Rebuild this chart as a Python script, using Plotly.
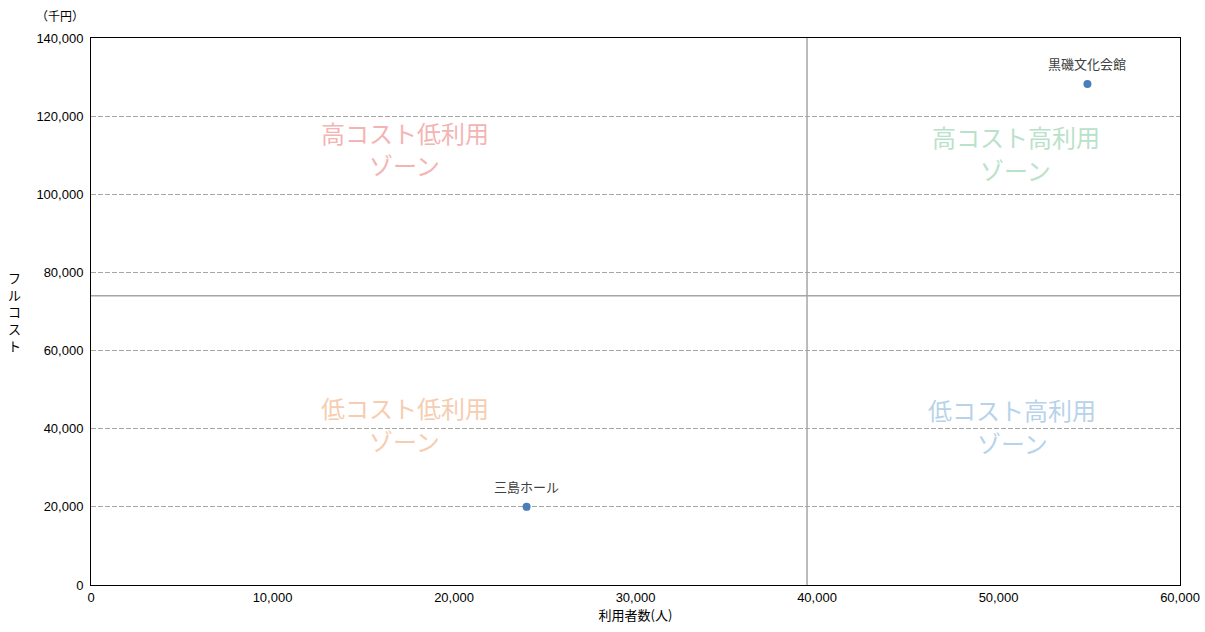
import plotly.graph_objects as go

# Facilities: annual users vs. full cost (thousand yen)
facilities = ["黒磯文化会館", "三島ホール"]
users = [54900, 24000]
full_cost = [128200, 20000]

# Quadrant dividers
user_divider = 39450
cost_divider = 74000

x_range = [0, 60000]
y_range = [0, 140000]
y_ticks = [0, 20000, 40000, 60000, 80000, 100000, 120000, 140000]
x_ticks = [0, 10000, 20000, 30000, 40000, 50000, 60000]

# Zone captions (two lines each), positions in plot-area fractions
zone_titles = ["高コスト低利用", "高コスト高利用", "低コスト低利用", "低コスト高利用"]
zone_suffix = "ゾーン"
zone_x = [0.288, 0.849, 0.288, 0.846]
zone_y_top = [0.828, 0.820, 0.324, 0.320]
zone_y_bottom = [0.768, 0.759, 0.265, 0.260]
zone_colors = ["#F4B4B4", "#B9E2CA", "#F6CDB0", "#B7D3EA"]

FONT = "Noto Sans CJK JP, sans-serif"
NUM_FONT = "Liberation Sans, Arial, sans-serif"
fig = go.Figure()

# Divider lines
fig.add_trace(go.Scatter(x=[user_divider, user_divider], y=y_range, mode="lines",
                         line=dict(color="#A6A6A6", width=1.5), hoverinfo="skip",
                         showlegend=False))
fig.add_trace(go.Scatter(x=x_range, y=[cost_divider, cost_divider], mode="lines",
                         line=dict(color="#A6A6A6", width=1.5), hoverinfo="skip",
                         showlegend=False))

# Facility points
fig.add_trace(go.Scatter(x=users, y=full_cost, mode="markers",
                         marker=dict(color="#4A7EBB", size=8), showlegend=False))
for name, ux, cy in zip(facilities, users, full_cost):
    fig.add_annotation(text=name, x=ux, y=cy, showarrow=False, yanchor="bottom",
                       yshift=9, font=dict(family=FONT, size=13, color="#404040"))

for title, zx, yt, yb, zc in zip(zone_titles, zone_x, zone_y_top, zone_y_bottom,
                                 zone_colors):
    for text, zy in ((title, yt), (zone_suffix, yb)):
        fig.add_annotation(text=text, x=zx, y=zy, xref="paper", yref="paper",
                           xanchor="center", yanchor="middle", showarrow=False,
                           font=dict(family=FONT, size=24, color=zc))

# Unit label and vertical y-axis title
fig.add_annotation(text="（千円）", x=-0.0285, y=1.042, xref="paper", yref="paper",
                   xanchor="center", yanchor="middle", showarrow=False,
                   font=dict(family=FONT, size=12, color="#000"))
fig.add_annotation(text="フ<br>ル<br>コ<br>ス<br>ト", x=-0.0705, y=0.5, xref="paper",
                   yref="paper", xanchor="center", yanchor="middle", showarrow=False,
                   font=dict(family=FONT, size=13, color="#000"))

fig.update_xaxes(range=x_range, tickvals=x_ticks, tickformat=",d", showgrid=False,
                 zeroline=False, showline=True, linecolor="#000", linewidth=1,
                 mirror=True, ticks="", automargin=False,
                 tickfont=dict(family=NUM_FONT, size=13, color="#000"),
                 title=dict(text="利用者数(人)", font=dict(family=FONT, size=13, color="#000"),
                            standoff=5))
fig.update_yaxes(range=y_range, tickvals=y_ticks, tickformat=",d", showgrid=True,
                 gridcolor="#A6A6A6", griddash="5px,2px", gridwidth=1, zeroline=False,
                 showline=True, linecolor="#000", linewidth=1, mirror=True, ticks="",
                 automargin=False, ticklabelstandoff=4,
                 tickfont=dict(family=NUM_FONT, size=13, color="#000"))

fig.update_layout(width=1205, height=632, margin=dict(l=91, r=25, t=38, b=47),
                  plot_bgcolor="white", paper_bgcolor="white",
                  font=dict(family=FONT))

fig.write_html("out.html")
